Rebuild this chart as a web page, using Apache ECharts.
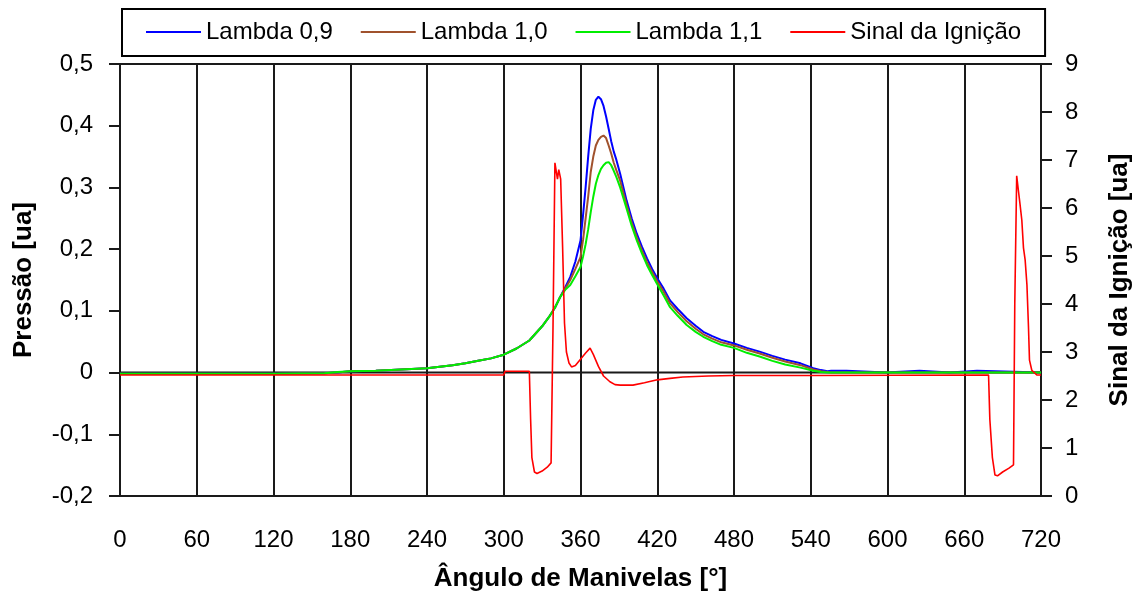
<!DOCTYPE html>
<html>
<head>
<meta charset="UTF-8">
<title>Pressão e Sinal da Ignição</title>
<script src="https://cdn.jsdelivr.net/npm/echarts@6/dist/echarts.min.js"></script>
<style>
  html, body { margin: 0; padding: 0; background: #fff; }
  #main { width: 1145px; height: 600px; }
</style>
</head>
<body>
<div id="main"></div>
<script>
// angulo de manivela [graus] comum as tres curvas de pressao
var angles = [0, 60, 120, 160, 170, 180, 200, 220, 240, 260, 270, 280, 290, 300, 310, 320, 330, 336, 340, 344, 348,
  352, 356, 360, 362, 364, 366, 368, 370, 372, 374, 376, 378, 380, 382, 384, 386, 388, 391, 396, 400, 404, 408,
  412, 416, 420, 425, 430, 436, 443, 450, 456, 463, 470, 480, 490, 500, 510, 520, 532, 542, 548, 553,
  556, 568, 569, 599, 600, 625, 626, 649, 650, 670, 671, 720];

var lambda09 = [-0.002, -0.002, -0.002, -0.001, 0.000, 0.002, 0.003, 0.005, 0.007, 0.012, 0.015, 0.019, 0.023, 0.029, 0.039, 0.052, 0.075, 0.092, 0.105, 0.122, 0.138,
  0.155, 0.180, 0.214, 0.255, 0.300, 0.350, 0.395, 0.425, 0.442, 0.447, 0.443, 0.432, 0.415, 0.395, 0.375, 0.358, 0.345, 0.322, 0.279, 0.250, 0.225, 0.204,
  0.185, 0.168, 0.153, 0.136, 0.117, 0.103, 0.088, 0.076, 0.066, 0.059, 0.053, 0.047, 0.040, 0.034, 0.027, 0.021, 0.015, 0.007, 0.004, 0.002,
  0.003, 0.003, 0.000, 0.000, 0.003, 0.003, 0.000, 0.000, 0.003, 0.003, 0.000, 0.000];

var lambda10 = [-0.002, -0.002, -0.002, -0.001, 0.000, 0.002, 0.003, 0.005, 0.007, 0.012, 0.015, 0.019, 0.023, 0.029, 0.039, 0.052, 0.075, 0.092, 0.105, 0.122, 0.136,
  0.150, 0.168, 0.187, 0.215, 0.250, 0.285, 0.325, 0.350, 0.368, 0.377, 0.382, 0.384, 0.380, 0.368, 0.355, 0.340, 0.328, 0.311, 0.272, 0.243, 0.219, 0.198,
  0.179, 0.163, 0.148, 0.131, 0.112, 0.098, 0.083, 0.071, 0.062, 0.055, 0.049, 0.044, 0.037, 0.031, 0.024, 0.018, 0.012, 0.005, 0.002, 0.001,
  0, 0, 0, 0, 0, 0, 0, 0, 0, 0, 0, 0];

var lambda11 = [-0.002, -0.002, -0.002, -0.001, 0.001, 0.002, 0.003, 0.005, 0.007, 0.012, 0.015, 0.019, 0.023, 0.029, 0.039, 0.052, 0.075, 0.092, 0.105, 0.122, 0.134,
  0.142, 0.156, 0.171, 0.188, 0.208, 0.232, 0.260, 0.285, 0.306, 0.320, 0.330, 0.336, 0.340, 0.341, 0.336, 0.327, 0.317, 0.300, 0.266, 0.238, 0.214, 0.193,
  0.174, 0.158, 0.143, 0.125, 0.106, 0.092, 0.077, 0.066, 0.058, 0.051, 0.045, 0.040, 0.032, 0.026, 0.019, 0.013, 0.008, 0.003, 0.001, 0,
  0, 0, 0, 0, 0, 0, 0, 0, 0, 0, 0, 0];

// sinal da ignicao (eixo da direita)
var ignAngles = [0, 300, 301, 320, 321, 322, 324, 326, 330, 334, 337, 338.5, 340, 341, 342, 343, 344.5, 346, 347.5, 349, 351,
  353, 356, 360, 364, 367.5, 370, 374, 378, 383, 387, 391, 401, 410, 420, 430, 440, 460, 480, 540, 679, 680, 682, 684, 686, 690, 695, 698.5,
  699.5, 701, 702.3, 703.5, 705, 706.3, 707.6, 709, 710.2, 711, 712.8, 716.7, 720];
var ignSignal = [2.52, 2.52, 2.6, 2.6, 1.6, 0.8, 0.5, 0.47, 0.52, 0.6, 0.69, 3.5, 6.94, 6.9, 6.6, 6.8, 6.6, 5.2, 3.6, 3.0, 2.77,
  2.69, 2.72, 2.85, 2.98, 3.08, 2.95, 2.7, 2.5, 2.38, 2.32, 2.31, 2.31, 2.36, 2.42, 2.45, 2.48, 2.5, 2.51, 2.51, 2.52, 1.6, 0.8, 0.44, 0.42, 0.5, 0.58, 0.65,
  4.0, 6.67, 6.37, 6.1, 5.75, 5.17, 4.92, 4.4, 3.53, 2.83, 2.62, 2.52, 2.52];

var seriesNames = ['Lambda 0,9', 'Lambda 1,0', 'Lambda 1,1', 'Sinal da Ignição'];
var seriesColors = ['#0000ff', '#a0522d', '#00ee00', '#ff0000'];

function pairs(xs, ys) {
  var out = [];
  for (var i = 0; i < xs.length; i++) out.push([xs[i], ys[i]]);
  return out;
}

var font = 'Liberation Sans, Arial, sans-serif';
var myChart = echarts.init(document.getElementById('main'));

var option = {
  animation: false,
  textStyle: { fontFamily: font },
  legend: {
    data: seriesNames,
    left: 122,
    top: 9,
    padding: [11, 24, 12, 24],
    borderColor: '#000',
    borderWidth: 2,
    icon: 'rect',
    itemWidth: 55,
    itemHeight: 2,
    itemGap: 28,
    textStyle: { fontSize: 24, color: '#000', fontFamily: font }
  },
  grid: {
    left: 120, right: 104, top: 64, bottom: 104,
    outerBoundsMode: 'none',
    show: true, borderColor: '#1a1a1a', borderWidth: 2
  },
  xAxis: {
    type: 'value', min: 0, max: 720, interval: 60,
    axisLine: { onZero: false, lineStyle: { color: '#1a1a1a', width: 2 } },
    axisTick: { show: false },
    splitLine: { show: true, lineStyle: { color: '#1a1a1a', width: 2 } },
    axisLabel: { fontSize: 24, color: '#000', margin: 32 },
    name: 'Ângulo de Manivelas [°]',
    nameLocation: 'middle', nameGap: 70,
    nameTextStyle: { fontSize: 26, fontWeight: 'bold', color: '#000' }
  },
  yAxis: [{
    type: 'value', min: -0.2, max: 0.5, interval: 0.1,
    axisLine: { show: true, lineStyle: { color: '#1a1a1a', width: 2 } },
    axisTick: { show: true, inside: false, length: 11, lineStyle: { color: '#1a1a1a', width: 2 } },
    splitLine: { show: false },
    axisLabel: {
      fontSize: 24, color: '#000', margin: 27,
      formatter: function (v) { return Math.abs(v) < 1e-9 ? '0' : v.toFixed(1).replace('.', ','); }
    },
    name: 'Pressão [ua]',
    nameLocation: 'middle', nameGap: 83, nameRotate: 90,
    nameTextStyle: { fontSize: 26, fontWeight: 'bold', color: '#000' }
  }, {
    type: 'value', min: 0, max: 9, interval: 1, position: 'right',
    axisLine: { show: true, lineStyle: { color: '#1a1a1a', width: 2 } },
    axisTick: { show: true, inside: false, length: 11, lineStyle: { color: '#1a1a1a', width: 2 } },
    splitLine: { show: false },
    axisLabel: { fontSize: 24, color: '#000', margin: 24 },
    name: 'Sinal da Ignição [ua]',
    nameLocation: 'middle', nameGap: 66, nameRotate: 90,
    nameTextStyle: { fontSize: 26, fontWeight: 'bold', color: '#000' }
  }],
  series: [{
    // linha do zero do eixo da pressao
    name: 'zero', type: 'line', yAxisIndex: 0, symbol: 'none', silent: true,
    data: [[0, 0], [720, 0]],
    lineStyle: { color: '#1a1a1a', width: 2 }
  }, {
    name: seriesNames[0], type: 'line', yAxisIndex: 0, symbol: 'none',
    data: pairs(angles, lambda09),
    itemStyle: { color: seriesColors[0] },
    lineStyle: { color: seriesColors[0], width: 2 }
  }, {
    name: seriesNames[1], type: 'line', yAxisIndex: 0, symbol: 'none',
    data: pairs(angles, lambda10),
    itemStyle: { color: seriesColors[1] },
    lineStyle: { color: seriesColors[1], width: 2 }
  }, {
    name: seriesNames[2], type: 'line', yAxisIndex: 0, symbol: 'none',
    data: pairs(angles, lambda11),
    itemStyle: { color: seriesColors[2] },
    lineStyle: { color: seriesColors[2], width: 2 }
  }, {
    name: seriesNames[3], type: 'line', yAxisIndex: 1, symbol: 'none',
    data: pairs(ignAngles, ignSignal),
    itemStyle: { color: seriesColors[3] },
    lineStyle: { color: seriesColors[3], width: 1.6 }
  }]
};

myChart.setOption(option);
</script>
</body>
</html>
